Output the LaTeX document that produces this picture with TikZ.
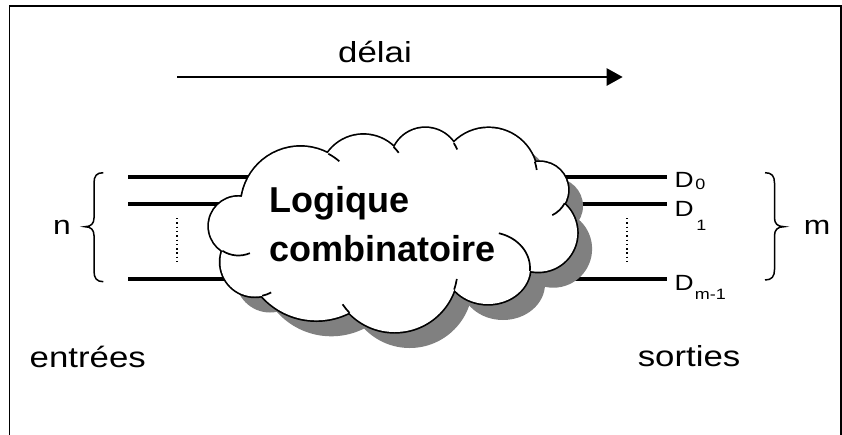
\documentclass[tikz,border=0pt]{standalone}
\usepackage{fontspec}
\setmainfont{Liberation Sans}[FakeStretch=1.2]
\newfontfamily\cloudfont{Liberation Sans}
\usetikzlibrary{arrows.meta,calc}
\definecolor{shadowgray}{HTML}{808080}
\begin{document}
\begin{tikzpicture}[x=1pt,y=-1pt,
  lbl/.style={inner sep=0pt,font=\fontsize{29}{34}\selectfont},
  nlbl/.style={inner sep=0pt,font=\fontsize{26.5}{32}\selectfont},
  dlbl/.style={inner sep=0pt,font=\fontsize{22}{26}\selectfont},
  ctext/.style={inner sep=0pt,font=\cloudfont\bfseries\fontsize{36}{42}\selectfont},
  wire/.style={line width=4pt},
  dotline/.style={line width=1.6pt,dash pattern=on 1.4pt off 2.9pt},
  brc/.style={line width=1.5pt},
  tick/.style={line width=1.7pt},
  cloudpath/.style={insert path={
    (300.5,206) circle[radius=59.2]
    (363.4,178.4) circle[radius=43.6]
    (425.3,162.4) circle[radius=34.4]
    (488.6,176.7) circle[radius=48.6]
    (540,190) circle[radius=28]
    (538.3,232.9) circle[radius=38.8]
    (488,268) ellipse[x radius=42,y radius=36]
    (394.7,269.1) circle[radius=62.9]
    (316.3,247.4) circle[radius=72.9]
    (255,262) circle[radius=34.5]
    (238.4,226.1) circle[radius=29.4]}}]
\clip (0,0) rectangle (842,434);
\fill[white] (0,0) rectangle (842,434);
\draw[line width=1.7pt] (9.5,5.7) rectangle (841,470);

% delay arrow
\coordinate (a1) at (177,77);
\coordinate (a2) at (622.7,77);
\draw[line width=2.4pt,-{Triangle[length=16pt,width=17pt]}] (a1) -- (a2);
\node[lbl,anchor=base] (delai) at (375,62.7) {délai};

% input wires
\coordinate (i0) at (128,177);
\coordinate (i1) at (128,204);
\coordinate (i2) at (128,278.5);
\coordinate (ie0) at (300,177);
\coordinate (ie1) at (300,204);
\coordinate (ie2) at (300,278.5);
\draw[wire] (i0) -- (ie0);
\draw[wire] (i1) -- (ie1);
\draw[wire] (i2) -- (ie2);
% output wires
\coordinate (o0) at (667,177);
\coordinate (o1) at (667,204);
\coordinate (o2) at (667,278.5);
\coordinate (os0) at (480,177);
\coordinate (os1) at (480,204);
\coordinate (os2) at (480,278.5);
\draw[wire] (os0) -- (o0);
\draw[wire] (os1) -- (o1);
\draw[wire] (os2) -- (o2);

% dotted
\coordinate (dl1) at (176.7,218);
\coordinate (dl2) at (176.7,262);
\coordinate (dr1) at (626.7,218);
\coordinate (dr2) at (626.7,262);
\draw[dotline] (dl1) -- (dl2);
\draw[dotline] (dr1) -- (dr2);

% cloud
\fill[shadowgray,shift={(15,16)},cloudpath];
\draw[line width=3.4pt,cloudpath];
\fill[white,cloudpath];
\fill[white] (300,175) -- (365,160) -- (428,150) -- (488,150) -- (530,175) -- (555,205)
  -- (540,245) -- (495,280) -- (450,278) -- (395,310) -- (330,295) -- (265,280)
  -- (240,245) -- (255,205) -- cycle;
\draw[tick] ([shift={(300.5,206)}]-62:59.2) arc[start angle=-62,end angle=-49,radius=59.2];
\draw[tick] ([shift={(363.4,178.4)}]-46:43.6) arc[start angle=-46,end angle=-36,radius=43.6];
\draw[tick] ([shift={(425.3,162.4)}]-34:34.4) arc[start angle=-34,end angle=-22,radius=34.4];
\draw[tick] ([shift={(488.6,176.7)}]-18:48.6) arc[start angle=-18,end angle=-8,radius=48.6];
\draw[tick] ([shift={(540,190)}]28:28) arc[start angle=28,end angle=64,radius=28];
\draw[tick] ([shift={(488,268)}]-75:42 and 36) arc[start angle=-75,end angle=5,x radius=42,y radius=36];
\draw[tick] ([shift={(394.7,269.1)}]19:62.9) arc[start angle=19,end angle=9,radius=62.9];
\draw[tick] ([shift={(394.7,269.1)}]136:62.9) arc[start angle=136,end angle=146,radius=62.9];
\draw[tick] ([shift={(255,262)}]78:34.5) arc[start angle=78,end angle=62,radius=34.5];
\draw[tick] ([shift={(238.4,226.1)}]123:29.4) arc[start angle=123,end angle=67,radius=29.4];

\node[ctext,anchor=base west] (logique) at (269.5,212.7) {Logique};
\node[ctext,anchor=base west] (combi) at (269.5,261.7) {combinatoire};

% braces
\draw[brc] (103.3,172.7) .. controls (96.5,172.7) and (94,176) .. (94,183)
  -- (94,218) .. controls (94,223.5) and (91,226.7) .. (85,226.7)
  .. controls (91,226.7) and (94,230) .. (94,235.5)
  -- (94,271) .. controls (94,278) and (96.5,281.7) .. (103.3,281.7);
\draw[brc] (765,172.7) .. controls (771.8,172.7) and (774.5,176) .. (774.5,183)
  -- (774.5,218) .. controls (774.5,223.5) and (777.5,226.7) .. (784,226.7)
  .. controls (777.5,226.7) and (774.5,230) .. (774.5,235.5)
  -- (774.5,269.5) .. controls (774.5,276.5) and (771.8,280) .. (765,280);

% labels
\node[nlbl,anchor=base] (n) at (62,234) {n};
\node[nlbl,anchor=base] (m) at (817,234) {m};
\node[lbl,anchor=base west] (entrees) at (29.5,367.3) {entrées};
\node[lbl,anchor=base] (sorties) at (689,366.7) {sorties};
\node[dlbl,anchor=base west] (d0) at (674.5,187.3) {D\hspace{1.5pt}\raisebox{-2pt}{\fontsize{15}{18}\selectfont 0}};
\node[dlbl,anchor=base west] (d1) at (674.5,216) {D\hspace{2.5pt}\raisebox{-14.7pt}{\fontsize{15}{18}\selectfont 1}};
\node[dlbl,anchor=base west] (dm) at (674.5,290) {D\hspace{1pt}\raisebox{-9.3pt}{\fontsize{15}{18}\selectfont m-1}};
\end{tikzpicture}
\end{document}
